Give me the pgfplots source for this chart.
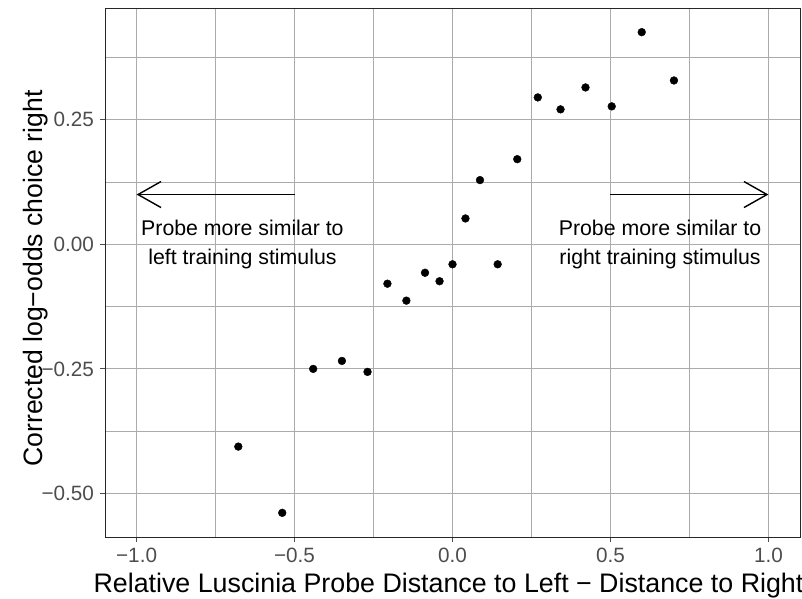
\documentclass[border=0pt]{standalone}
\usepackage{fontspec}
\setmainfont{Liberation Sans}
\usepackage{pgfplots}
\pgfplotsset{compat=1.18}
\usetikzlibrary{arrows.meta}
\definecolor{gridc}{HTML}{ABABAB}
\definecolor{tickc}{HTML}{4D4D4D}
\begin{document}
\begin{tikzpicture}
\begin{axis}[name=ax, scale only axis, width=695pt, height=529pt,
  xmin=-1.1, xmax=1.1, ymin=-0.5875, ymax=0.4745,
  xtick={-1,-0.5,0,0.5,1}, xticklabels={−1.0,−0.5,0.0,0.5,1.0},
  ytick={-0.5,-0.25,0,0.25}, yticklabels={−0.50,−0.25,0.00,0.25},
  minor xtick={-0.75,-0.25,0.25,0.75}, minor ytick={-0.375,-0.125,0.125,0.375},
  grid=both,
  major grid style={gridc, line width=0.9pt},
  minor grid style={gridc, line width=0.9pt},
  tick align=outside, major tick length=5pt, minor tick length=0pt,
  tick style={tickc, line width=0.9pt},
  axis line style={black!85, line width=0.9pt},
  xtick pos=bottom, ytick pos=left,
  ticklabel style={font=\fontsize{20.7}{20.7}\selectfont, text=tickc},
  xticklabel style={anchor=base, yshift=-20pt},
  yticklabel style={xshift=-2.5pt},
  clip=false,
]
\addplot[only marks, mark=*, mark size=3.9pt, black] coordinates {
(-0.678,-0.406) (-0.539,-0.539) (-0.441,-0.250) (-0.350,-0.234) (-0.269,-0.256)
(-0.206,-0.079) (-0.146,-0.113) (-0.087,-0.057) (-0.041,-0.074) (0.000,-0.040)
(0.041,0.052) (0.087,0.129) (0.143,-0.040) (0.205,0.171)
(0.270,0.295) (0.342,0.271) (0.421,0.315) (0.504,0.277) (0.599,0.426) (0.701,0.329)
};
\draw[line width=1.4pt, -{Straight Barb[length=23pt,width=26pt,line width=1.4pt]}] (axis cs:-0.5,0.1) -- (axis cs:-1,0.1);
\draw[line width=1.4pt, -{Straight Barb[length=23pt,width=26pt,line width=1.4pt]}] (axis cs:0.5,0.1) -- (axis cs:1,0.1);
\node[align=center, font=\fontsize{21.3}{29}\selectfont] at (axis cs:-0.665,0) {Probe more similar to\\left training stimulus};
\node[align=center, font=\fontsize{21.3}{29}\selectfont] at (axis cs:0.657,0) {Probe more similar to\\right training stimulus};
\end{axis}
\node[anchor=base, font=\fontsize{26.8}{26.8}\selectfont] at ([xshift=-4pt, yshift=-55pt]ax.south) {Relative Luscinia Probe Distance to Left − Distance to Right};
\node[anchor=base, rotate=90, font=\fontsize{26.6}{26.6}\selectfont] at ([xshift=-62.5pt, yshift=-6pt]ax.west) {Corrected log−odds choice right};
\pgfresetboundingbox
\path[use as bounding box] ([shift={(-105pt,-61pt)}]ax.south west) rectangle ([shift={(2pt,8pt)}]ax.north east);
\end{tikzpicture}
\end{document}
